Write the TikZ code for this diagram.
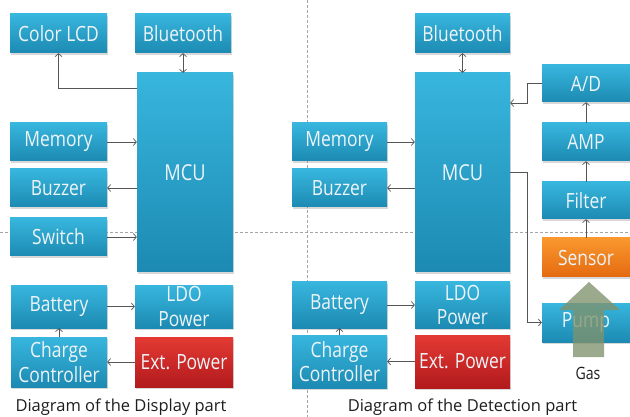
\documentclass[tikz,border=0pt]{standalone}
\usepackage{fontspec}
\setmainfont{Open Sans}
\newfontfamily\boxfont[FakeStretch=0.83]{Open Sans}
\usetikzlibrary{arrows.meta,shadows,calc}
\definecolor{bluetop}{RGB}{56,182,222}
\definecolor{bluebot}{RGB}{28,138,178}
\definecolor{redtop}{RGB}{228,58,52}
\definecolor{redbot}{RGB}{178,26,28}
\definecolor{orgtop}{RGB}{250,152,46}
\definecolor{orgbot}{RGB}{228,106,16}
\definecolor{lnclr}{RGB}{85,85,85}
\definecolor{dashclr}{RGB}{165,165,165}
\definecolor{gasclr}{RGB}{128,146,108}
\definecolor{capclr}{RGB}{30,30,30}
\definecolor{txtclr}{RGB}{238,244,248}
\begin{document}
\begin{tikzpicture}[x=1pt,y=-1pt,
  box/.style={top color=bluetop, bottom color=bluebot, text=txtclr, inner sep=0pt,
    align=center, font=\boxfont\fontsize{21}{24.5}\selectfont,
    drop shadow={shadow xshift=0.6pt, shadow yshift=-2pt, opacity=0.3}},
  sz/.style 2 args={minimum width=#1pt, minimum height=#2pt},
  redbox/.style={box, top color=redtop, bottom color=redbot},
  orgbox/.style={box, top color=orgtop, bottom color=orgbot},
  mcubox/.style={box, font=\boxfont\fontsize{22}{26}\selectfont},
  conn/.style={draw=lnclr, line width=0.7pt, -{Straight Barb[length=3pt,width=7pt]}},
  dconn/.style={draw=lnclr, line width=0.7pt, {Straight Barb[length=3pt,width=7pt]}-{Straight Barb[length=3pt,width=7pt]}},
  sep/.style={draw=dashclr, line width=0.7pt, dash pattern=on 3pt off 2pt},
  captxt/.style={text=capclr, font=\fontsize{16.5}{20}\selectfont, inner sep=0pt}
]
\useasboundingbox (0,0) rectangle (630,417);
\fill[white] (0,0) rectangle (630,417);

% separators
\coordinate (vtop) at (307,0);
\coordinate (vbot) at (307,417);
\coordinate (hl) at (0,232);
\coordinate (hr) at (630,232);
\draw[sep] (vtop) -- (vbot);
\draw[sep] (hl) -- (hr);

% ---------- Display part ----------
\node[box, sz={97}{39}] (lcd) at (58.5,33.5) {Color LCD};
\node[box, sz={96}{39}] (bt1) at (183,33.5) {Bluetooth};
\node[mcubox, sz={96}{199}] (mcu1) at (185,172.5) {MCU};
\node[box, sz={97}{38}] (mem1) at (58.5,142) {Memory};
\node[box, sz={97}{38}] (buz1) at (58.5,188) {Buzzer};
\node[box, sz={97}{38}] (sw) at (58.5,237) {Switch};
\node[box, sz={96}{43}] (bat1) at (59,306.5) {Battery};
\node[box, sz={98}{43}] (ldo1) at (184,306.5) {LDO\\Power};
\node[box, sz={96}{50}] (chg1) at (59,362) {Charge\\Controller};
\node[redbox, sz={98}{50}] (ext1) at (184,362) {Ext. Power};

\coordinate (lcdy) at (0,88);
\draw[conn] (mcu1.west |- lcdy) -| (lcd.south);
\draw[dconn] (bt1.south) -- (bt1.south |- mcu1.north);
\draw[conn] (mem1.east) -- (mem1.east -| mcu1.west);
\draw[conn] (buz1.east -| mcu1.west) -- (buz1.east);
\draw[conn] (sw.east) -- (sw.east -| mcu1.west);
\draw[conn] (bat1.east) -- (bat1.east -| ldo1.west);
\draw[conn] (chg1.north) -- (bat1.south);
\draw[conn] (ext1.west) -- (ext1.west -| chg1.east);

\node[captxt] (cap1) at (121,407) {Diagram of the Display part};

% ---------- Detection part ----------
\node[box, sz={95}{39}] (bt2) at (462.5,33.5) {Bluetooth};
\node[mcubox, sz={95}{199}] (mcu2) at (462.5,172.5) {MCU};
\node[box, sz={95}{38}] (mem2) at (339.5,142) {Memory};
\node[box, sz={95}{38}] (buz2) at (339.5,188) {Buzzer};
\node[box, sz={95}{46}] (bat2) at (339.5,305) {Battery};
\node[box, sz={95}{46}] (ldo2) at (462.5,305) {LDO\\Power};
\node[box, sz={95}{53}] (chg2) at (339.5,361.5) {Charge\\Controller};
\node[redbox, sz={95}{53}] (ext2) at (462.5,361.5) {Ext. Power};

\node[box, sz={88}{37}] (ad) at (586,83.5) {A/D};
\node[box, sz={88}{38}] (amp) at (586,142) {AMP};
\node[box, sz={88}{37}] (filt) at (586,200.5) {Filter};
\node[orgbox, sz={88}{39}] (sens) at (586,257.5) {Sensor};
\node[box, sz={88}{39}] (pump) at (586,322.5) {Pump};

\coordinate (adj) at (527,103);
\coordinate (pj) at (527,172.5);
\draw[dconn] (bt2.south) -- (bt2.south |- mcu2.north);
\draw[conn] (mem2.east) -- (mem2.east -| mcu2.west);
\draw[conn] (buz2.east -| mcu2.west) -- (buz2.east);
\draw[conn] (bat2.east) -- (bat2.east -| ldo2.west);
\draw[conn] (chg2.north) -- (bat2.south);
\draw[conn] (ext2.west) -- (ext2.west -| chg2.east);
\draw[conn] (ad.west) -| (adj) -- (adj -| mcu2.east);
\draw[conn] (amp.north) -- (ad.south);
\draw[conn] (filt.north) -- (amp.south);
\draw[conn] (sens.north) -- (filt.south);
\draw[conn] (mcu2.east) -- (pj) |- (pump.west);

% gas arrow
\fill[gasclr, opacity=0.78] (573,357) -- (573,310) -- (559,310) -- (589,282)
  -- (620,310) -- (604,310) -- (604,357) -- cycle;
\node[text=capclr, font=\boxfont\fontsize{17}{20}\selectfont, inner sep=0pt] (gas) at (588,373) {Gas};

\node[captxt] (cap2) at (462.5,407) {Diagram of the Detection part};
\end{tikzpicture}
\end{document}
